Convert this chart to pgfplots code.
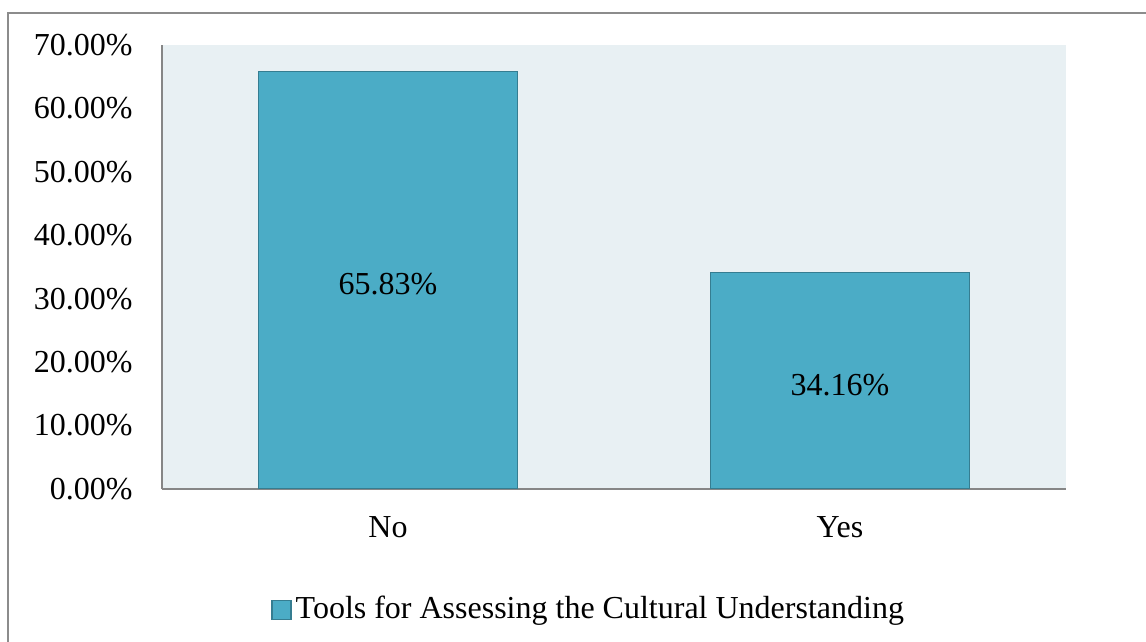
\documentclass[border=0pt]{standalone}
\usepackage{pgfplots}
\pgfplotsset{compat=1.18}
\usepackage{fontspec}
\setmainfont{Liberation Serif}
\definecolor{barcol}{RGB}{75,172,198}
\definecolor{baredge}{RGB}{53,125,145}
\definecolor{bgcol}{RGB}{232,240,243}
\definecolor{axcol}{RGB}{134,134,134}
\definecolor{framecol}{RGB}{140,140,140}
\begin{document}
\fontsize{16bp}{19bp}\selectfont
\begin{tikzpicture}[font=\fontsize{16bp}{19bp}\selectfont]
\useasboundingbox (0,0) rectangle (573bp,321bp);
\draw[framecol, line width=1bp] (4bp,0) -- (4bp,314.5bp) -- (573bp,314.5bp);
\begin{axis}[
  at={(81bp,76.5bp)}, anchor=south west,
  scale only axis, width=452bp, height=222bp,
  xmin=-0.5, xmax=1.5, ymin=0, ymax=70,
  xtick=data, xticklabels={No,Yes},
  ytick={0,10,...,70},
  yticklabel={\pgfmathprintnumber[fixed,fixed zerofill,precision=2]{\tick}\%},
  /pgf/number format/assume math mode=true,
  axis x line*=bottom, axis y line*=left,
  axis line style={axcol, line width=1bp},
  major tick length=0pt,
  axis background/.style={fill=bgcol},
  yticklabel style={inner sep=0pt, xshift=-14.5bp},
  xticklabel style={inner sep=0pt, yshift=-13.5bp},
  legend style={draw=none, fill=none, at={(0.473,-0.272)}, anchor=center, inner sep=0pt,
    /tikz/every even column/.style={column sep=0pt}},
  legend image code/.code={\draw[#1] (0bp,-4.75bp) rectangle (9.5bp,4.75bp);},
  legend cell align=left,
]
\addplot[ybar, fill=barcol, draw=baredge, line width=0.75bp, bar width=0.573,
  visualization depends on={y/2 \as \halfy},
  nodes near coords={\pgfmathprintnumber[fixed,fixed zerofill,precision=2]{\pgfplotspointmeta}\%},
  every node near coord/.append style={anchor=center, text=black, yshift=-2bp, shift={(axis direction cs:0,-\halfy)}}]
  coordinates {(0,65.83) (1,34.16)};
\addlegendentry[xshift=2bp]{Tools for Assessing the Cultural Understanding}
\end{axis}
\end{tikzpicture}
\end{document}
